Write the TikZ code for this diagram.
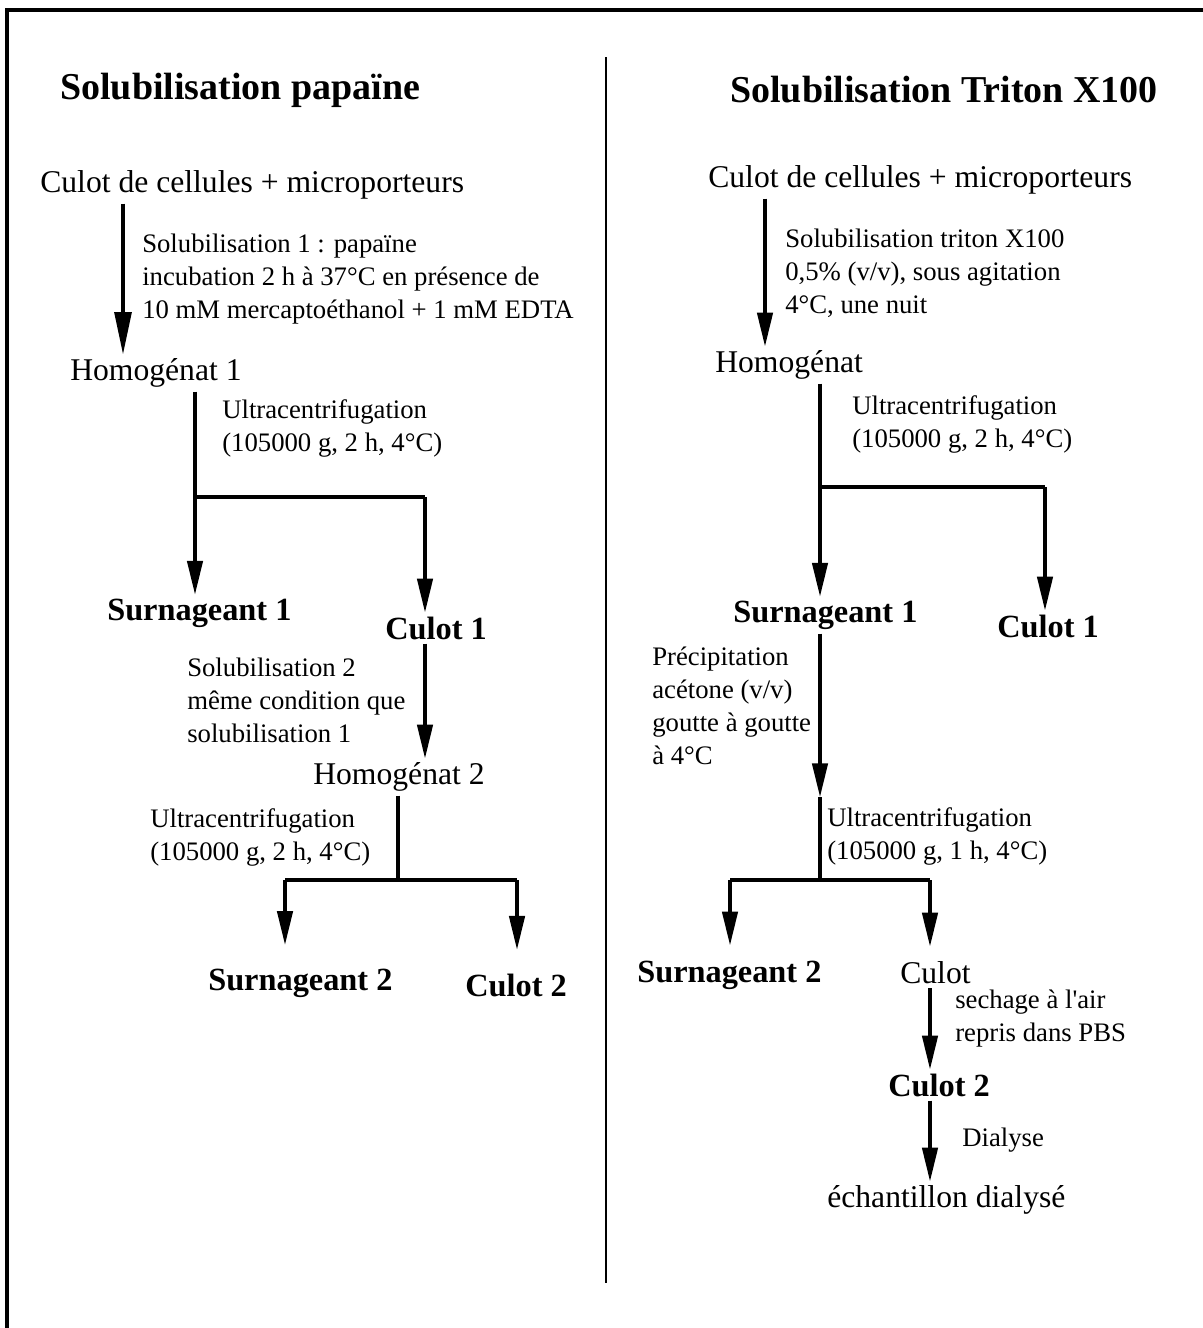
\documentclass[tikz,border=0pt]{standalone}
\usepackage{fontspec}
\setmainfont{Liberation Serif}
\usepackage{tikz}
\usetikzlibrary{
  arrows.meta,
  positioning,
  calc
}

\begin{document}
\begin{tikzpicture}[x=0.025cm, y=-0.025cm,
    heading/.style={font=\fontsize{27}{32}\selectfont\bfseries, anchor=west, inner sep=0pt},
    stage/.style={font=\fontsize{22.5}{27}\selectfont, anchor=west, inner sep=0pt, outer ysep=3pt},
    product/.style={font=\fontsize{23}{27}\selectfont\bfseries, anchor=west, inner sep=0pt, outer ysep=3pt},
    note/.style={font=\fontsize{19}{23.5}\selectfont, anchor=west, align=left, inner sep=0pt},
    flow/.style={line width=2.2pt, -{Triangle[length=24pt, width=11pt]}},
    branch/.style={line width=2.2pt},
    frame/.style={line width=2.8pt}]
  \useasboundingbox (0,0) rectangle (1203,1328);

  % cadre et separation
  \draw[frame] (7,1328) -- (7,10) -- (1203,10);
  \draw[line width=2pt] (606,57) -- (606,1283);

  % --- solubilisation papaine ---
  \node[heading] (titreP) at (60,90) {Solubilisation papaïne};
  \node[stage] (cellP) at (40,185) {Culot de cellules + microporteurs};
  \node[note] (solP) at (142,279) {Solubilisation 1 : papaïne\\incubation 2 h à 37°C en présence de\\10 mM mercaptoéthanol + 1 mM EDTA};
  \node[stage] (homP1) at (70,373) {Homogénat 1};
  \node[note] (ucP1) at (222,428) {Ultracentrifugation\\(105000 g, 2 h, 4°C)};
  \node[product] (surP1) at (107,613) {Surnageant 1};
  \node[product] (culP1) at (385,628) {Culot 1};
  \node[note] (solP2) at (187,700) {Solubilisation 2\\même condition que\\solubilisation 1};
  \node[stage] (homP2) at (313,777) {Homogénat 2};
  \node[note] (ucP2) at (150,837) {Ultracentrifugation\\(105000 g, 2 h, 4°C)};
  \node[product] (surP2) at (208,983) {Surnageant 2};
  \node[product] (culP2) at (465,985) {Culot 2};

  \coordinate (xP1) at (123,0);
  \coordinate (xP2) at (195,0);
  \coordinate (xP3) at (425,0);
  \coordinate (xP4) at (398,0);
  \coordinate (xP5) at (285,0);
  \coordinate (xP6) at (517,0);
  \coordinate (jP1) at (195,497);
  \coordinate (jP2) at (398,880);

  \draw[flow, -{Triangle[length=30pt, width=12pt]}] (cellP.south -| xP1) -- (homP1.north -| xP1);
  \draw[branch] (homP1.south -| xP2) -- (jP1) -- (jP1 -| xP3);
  \draw[flow] (jP1) -- (surP1.north -| xP2);
  \draw[flow] (jP1 -| xP3) -- (culP1.north -| xP3);
  \draw[flow] (culP1.south -| xP3) -- (homP2.north -| xP3);
  \draw[branch] (homP2.south -| xP4) -- (jP2);
  \draw[branch] (jP2 -| xP5) -- (jP2 -| xP6);
  \draw[flow, shorten >=14pt] (jP2 -| xP5) -- (surP2.north -| xP5);
  \draw[flow, shorten >=14pt] (jP2 -| xP6) -- (culP2.north -| xP6);

  % --- solubilisation triton X100 ---
  \node[heading] (titreT) at (730,90) {Solubilisation Triton X100};
  \node[stage] (cellT) at (708,180) {Culot de cellules + microporteurs};
  \node[note] (solT) at (785,273) {Solubilisation triton X100\\0,5\% (v/v), sous agitation\\4°C, une nuit};
  \node[stage] (homT) at (715,365) {Homogénat};
  \node[note] (ucT1) at (852,424) {Ultracentrifugation\\(105000 g, 2 h, 4°C)};
  \node[product] (surT1) at (733,615) {Surnageant 1};
  \node[product] (culT1) at (997,626) {Culot 1};
  \node[note] (precT) at (652,706) {Précipitation\\acétone (v/v)\\goutte à goutte\\à 4°C};
  \node[note] (ucT2) at (827,836) {Ultracentrifugation\\(105000 g, 1 h, 4°C)};
  \node[product] (surT2) at (637,975) {Surnageant 2};
  \node[stage] (culT) at (900,973) {Culot};
  \node[note] (sechT) at (955,1019) {sechage à l\textquotesingle air\\repris dans PBS};
  \node[product] (culT2) at (888,1085) {Culot 2};
  \node[note] (dialT) at (962,1140) {Dialyse};
  \node[stage] (echT) at (827,1200) {échantillon dialysé};

  \coordinate (xT1) at (765,0);
  \coordinate (xT2) at (820,0);
  \coordinate (xT3) at (1045,0);
  \coordinate (xT4) at (730,0);
  \coordinate (xT5) at (930,0);
  \coordinate (jT1) at (820,487);
  \coordinate (cT) at (820,797);
  \coordinate (jT2) at (820,880);

  \draw[flow] (cellT.south -| xT1) -- (homT.north -| xT1);
  \draw[branch] (homT.south -| xT2) -- (jT1) -- (jT1 -| xT3);
  \draw[flow] (jT1) -- (surT1.north -| xT2);
  \draw[flow] (jT1 -| xT3) -- (culT1.north -| xT3);
  \draw[flow] (surT1.south -| xT2) -- (cT);
  \draw[branch] (cT) -- (jT2);
  \draw[branch] (jT2 -| xT4) -- (jT2 -| xT5);
  \draw[flow, shorten >=8pt] (jT2 -| xT4) -- (surT2.north -| xT4);
  \draw[flow, shorten >=8pt] (jT2 -| xT5) -- (culT.north -| xT5);
  \draw[flow] (culT.south -| xT5) -- (culT2.north -| xT5);
  \draw[flow] (culT2.south -| xT5) -- (echT.north -| xT5);
\end{tikzpicture}
\end{document}
